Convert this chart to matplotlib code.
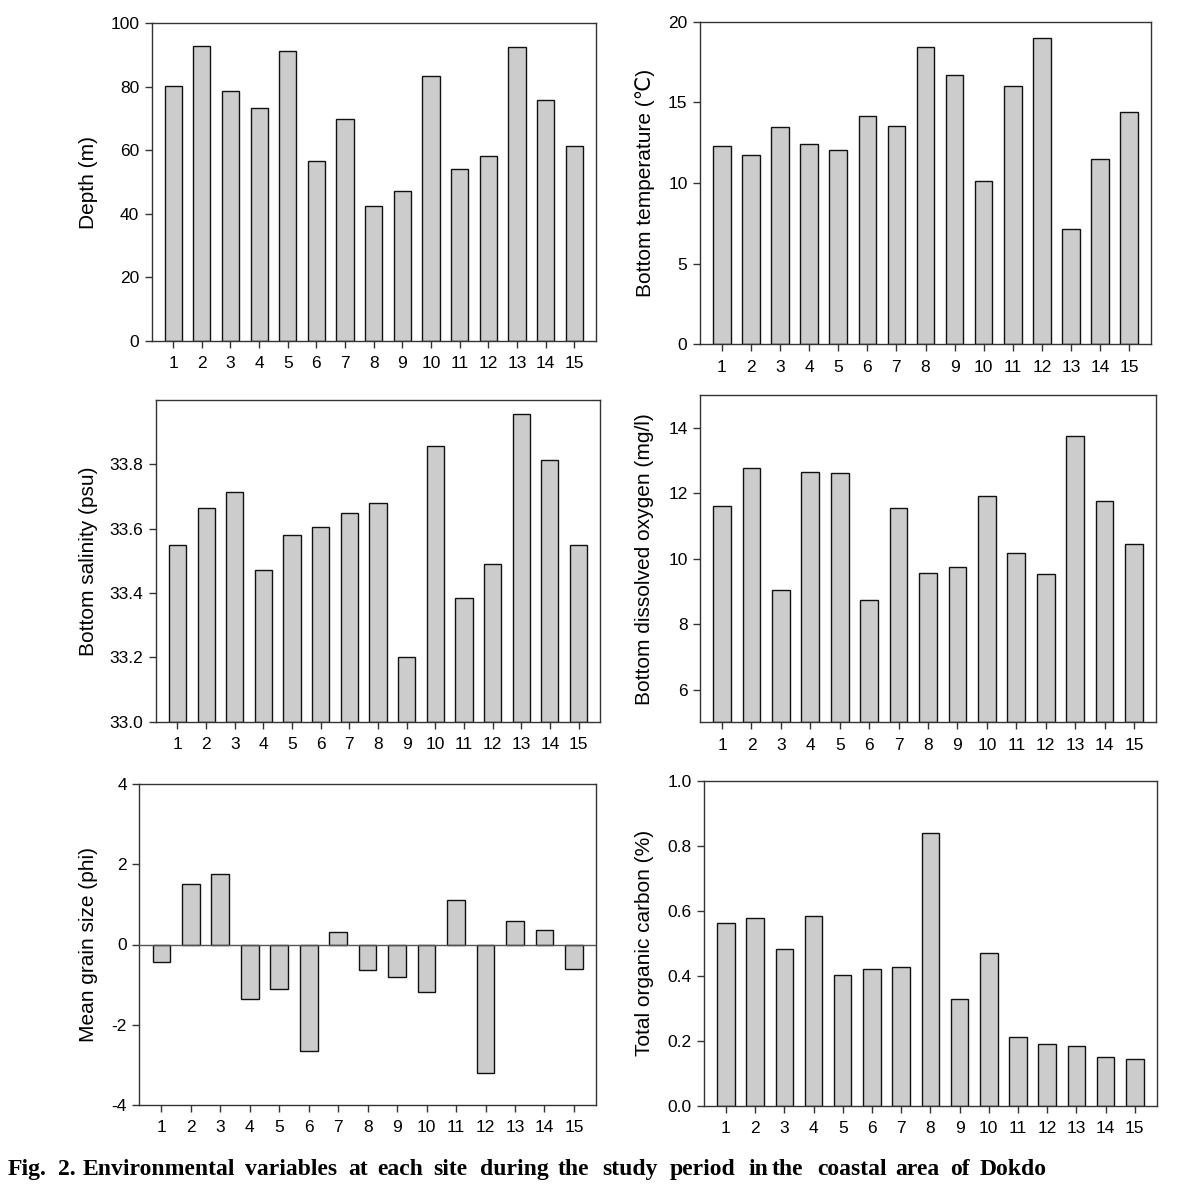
import matplotlib
matplotlib.use("Agg")
import matplotlib.pyplot as plt
import numpy as np

sites = list(range(1, 16))
depth = [80.3, 92.8, 78.8, 73.2, 91.4, 56.7, 70.0, 42.5, 47.1, 83.4, 54.0, 58.2, 92.5, 76.0, 61.5]
temperature = [12.31, 11.71, 13.47, 12.40, 12.02, 14.17, 13.55, 18.43, 16.67, 10.10, 16.03, 18.97, 7.13, 11.47, 14.40]
salinity = [33.549, 33.663, 33.714, 33.472, 33.580, 33.606, 33.649, 33.681, 33.202, 33.857, 33.385, 33.491, 33.955, 33.813, 33.548]
dissolved_oxygen = [11.60, 12.76, 9.03, 12.64, 12.61, 8.74, 11.54, 9.56, 9.76, 11.91, 10.16, 9.54, 13.75, 11.76, 10.46]
grain_size = [-0.44, 1.52, 1.75, -1.35, -1.12, -2.66, 0.31, -0.63, -0.80, -1.18, 1.10, -3.20, 0.59, 0.36, -0.62]
toc = [0.561, 0.577, 0.483, 0.583, 0.401, 0.421, 0.427, 0.840, 0.329, 0.471, 0.211, 0.189, 0.184, 0.150, 0.145]

caption_words = ["Fig.", "2.", "Environmental", "variables", "at", "each", "site", "during",
                 "the", "study", "period", "in", "the", "coastal", "area", "of", "Dokdo"]
caption_x = [8, 58, 83, 245, 348, 377, 433, 480, 558, 602, 670, 748, 772, 817, 895, 950, 980]

W, H = 1180, 1184
fig = plt.figure(figsize=(W / 100, H / 100), dpi=100)

font = ['Liberation Sans', 'DejaVu Sans']
plt.rcParams['font.family'] = font

# (left, top, right, bottom) in pixels
panels = [
    dict(box=(151.7, 23.3, 595.7, 341.0), data=depth, ylim=(0, 100), yticks=[0, 20, 40, 60, 80, 100],
         fmt="{:.0f}", label="Depth (m)", labx=88, base=0),
    dict(box=(700.0, 21.7, 1151.0, 344.3), data=temperature, ylim=(0, 20), yticks=[0, 5, 10, 15, 20],
         fmt="{:.0f}", label="Bottom temperature (\u2103)", labx=645, base=0),
    dict(box=(156.0, 400.0, 600.0, 721.7), data=salinity, ylim=(33.0, 34.0), yticks=[33.0, 33.2, 33.4, 33.6, 33.8],
         fmt="{:.1f}", label="Bottom salinity (psu)", labx=88, base=33.0),
    dict(box=(700.0, 395.0, 1156.0, 722.3), data=dissolved_oxygen, ylim=(5, 15), yticks=[6, 8, 10, 12, 14],
         fmt="{:.0f}", label="Bottom dissolved oxygen (mg/l)", labx=645, base=5),
    dict(box=(139.3, 784.0, 596.0, 1105.0), data=grain_size, ylim=(-4, 4), yticks=[-4, -2, 0, 2, 4],
         fmt="{:.0f}", label="Mean grain size (phi)", labx=88, base=0),
    dict(box=(704.0, 780.7, 1156.7, 1105.7), data=toc, ylim=(0, 1.0), yticks=[0, 0.2, 0.4, 0.6, 0.8, 1.0],
         fmt="{:.1f}", label="Total organic carbon (%)", labx=645, base=0),
]

for i, p in enumerate(panels):
    l, t, r, b = p["box"]
    ax = fig.add_axes([l / W, 1 - b / H, (r - l) / W, (b - t) / H])
    vals = np.array(p["data"])
    ax.bar(sites, vals - p["base"], bottom=p["base"], width=0.6, color="#cccccc",
           edgecolor="#111111", linewidth=1.0, zorder=2)
    if i == 4:
        ax.axhline(0, color="#555555", linewidth=1.0, zorder=3)
    ax.set_xlim(0.25, 15.75)
    ax.set_ylim(*p["ylim"])
    ax.set_xticks(sites)
    ax.set_xticklabels([str(s) for s in sites])
    ax.set_yticks(p["yticks"])
    ax.set_yticklabels([p["fmt"].format(v) for v in p["yticks"]])
    ax.tick_params(direction="out", length=5, width=1.0, labelsize=12.5, color="#333333",
                   top=False, right=False, pad=4)
    ax.tick_params(axis="x", pad=6)
    for s in ax.spines.values():
        s.set_color("#333333")
        s.set_linewidth(1.0)
    ax.set_ylabel(p["label"], fontsize=15, va="center", family=font)
    ax.yaxis.set_label_coords((p["labx"] - l) / (r - l), 0.5)

for w, x in zip(caption_words, caption_x):
    fig.text(x / W, 1 - 1175 / H, w, fontsize=17, fontweight="bold",
             family=["Liberation Serif", "DejaVu Serif"], ha="left", va="baseline")

fig.savefig("out.png", dpi=100)
